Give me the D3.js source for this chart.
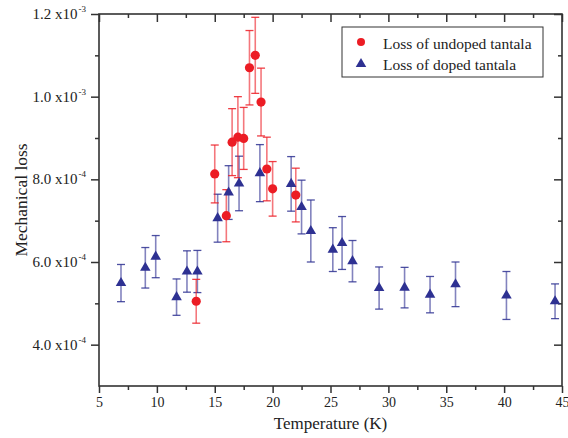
<!DOCTYPE html>
<html>
<head>
<meta charset="utf-8">
<script src="https://cdn.jsdelivr.net/npm/d3@7"></script>
<style>
  body { margin: 0; background: #fff; }
  text { font-family: "Liberation Serif", "Times New Roman", serif; fill: #222; }
</style>
</head>
<body>
<div id="chart"></div>
<script>
// undoped tantala (red circles)
var undopedT   = [13.4, 15.0, 16.0, 16.5, 17.0, 17.5, 18.0, 18.5, 19.0, 19.5, 20.0, 22.0];
var undopedVal = [5.05e-4, 8.13e-4, 7.12e-4, 8.90e-4, 9.02e-4, 8.99e-4, 10.70e-4, 11.00e-4, 9.87e-4, 8.25e-4, 7.77e-4, 7.62e-4];
var undopedErr = [0.53e-4, 0.70e-4, 0.63e-4, 0.81e-4, 0.98e-4, 0.75e-4, 0.90e-4, 0.92e-4, 0.82e-4, 0.77e-4, 0.66e-4, 0.65e-4];

// doped tantala (blue triangles)
var dopedT   = [6.9, 9.0, 9.9, 11.7, 12.6, 13.5, 15.25, 16.2, 17.1, 18.9, 21.6, 22.5, 23.3, 25.2, 26.0, 26.9, 29.2, 31.4, 33.6, 35.8, 40.2, 44.4];
var dopedVal = [5.49e-4, 5.86e-4, 6.13e-4, 5.15e-4, 5.77e-4, 5.77e-4, 7.06e-4, 7.68e-4, 7.90e-4, 8.15e-4, 7.89e-4, 7.33e-4, 6.75e-4, 6.30e-4, 6.46e-4, 6.02e-4, 5.37e-4, 5.38e-4, 5.21e-4, 5.46e-4, 5.19e-4, 5.05e-4];
var dopedErr = [0.45e-4, 0.49e-4, 0.51e-4, 0.44e-4, 0.50e-4, 0.51e-4, 0.58e-4, 0.65e-4, 0.66e-4, 0.69e-4, 0.66e-4, 0.65e-4, 0.75e-4, 0.53e-4, 0.64e-4, 0.50e-4, 0.51e-4, 0.49e-4, 0.44e-4, 0.54e-4, 0.58e-4, 0.42e-4];

var xTicks = [5, 10, 15, 20, 25, 30, 35, 40, 45];
var yTicks = [4e-4, 6e-4, 8e-4, 10e-4, 12e-4];
var yTickText = [["4.0 x10", "-4"], ["6.0 x10", "-4"], ["8.0 x10", "-4"], ["1.0 x10", "-3"], ["1.2 x10", "-3"]];
var seriesNames = ["Loss of undoped tantala", "Loss of doped tantala"];

var red = "#ec1c24", blue = "#2e3192";

var W = 568, H = 438,
    pl = 99, pr = 562, pt = 14, pb = 386;

var x = d3.scaleLinear().domain([5, 45]).range([pl, pr]);
var y = d3.scaleLinear().domain([3e-4, 12e-4]).range([pb, pt]);

var svg = d3.select("#chart").append("svg")
    .attr("width", W)
    .attr("height", H);

// minor tick values
var xMinor = d3.range(7.5, 45, 5);
var yMinor = [5e-4, 7e-4, 9e-4, 11e-4];

var axisColor = "#333";

// bottom axis (ticks out)
var xAxis = d3.axisBottom(x).tickValues(xTicks).tickSize(7).tickPadding(4).tickFormat(d3.format("d"));
var gx = svg.append("g").attr("transform", "translate(0," + pb + ")").call(xAxis);
gx.selectAll("text").style("font-size", "14px");
svg.append("g").attr("transform", "translate(0," + pb + ")")
  .call(d3.axisBottom(x).tickValues(xMinor).tickSize(4).tickFormat(""));

// top axis (ticks in)
svg.append("g").attr("transform", "translate(0," + pt + ")")
  .call(d3.axisBottom(x).tickValues(xTicks).tickSize(8).tickFormat(""));
svg.append("g").attr("transform", "translate(0," + pt + ")")
  .call(d3.axisBottom(x).tickValues(xMinor).tickSize(4).tickFormat(""));

// left axis (ticks out)
svg.append("g").attr("transform", "translate(" + pl + ",0)")
  .call(d3.axisLeft(y).tickValues(yTicks).tickSize(8).tickFormat(""));
svg.append("g").attr("transform", "translate(" + pl + ",0)")
  .call(d3.axisLeft(y).tickValues(yMinor).tickSize(4).tickFormat(""));

// right axis (ticks in)
svg.append("g").attr("transform", "translate(" + pr + ",0)")
  .call(d3.axisLeft(y).tickValues(yTicks).tickSize(8).tickFormat(""));
svg.append("g").attr("transform", "translate(" + pr + ",0)")
  .call(d3.axisLeft(y).tickValues(yMinor).tickSize(4).tickFormat(""));

svg.selectAll(".domain").remove();
svg.selectAll(".tick line").attr("stroke", axisColor).attr("stroke-width", 1.5);

// frame
svg.append("rect")
  .attr("x", pl).attr("y", pt)
  .attr("width", pr - pl).attr("height", pb - pt)
  .attr("fill", "none").attr("stroke", axisColor).attr("stroke-width", 1.6);

// y tick labels with superscript exponent
var yl = svg.selectAll(".ylab")
  .data(yTicks)
  .enter().append("text")
  .attr("class", "ylab")
  .attr("x", 86)
  .attr("y", function(d) { return y(d) + 5; })
  .attr("text-anchor", "end")
  .style("font-size", "15px");
yl.append("tspan").text(function(d, i) { return yTickText[i][0]; });
yl.append("tspan").attr("dx", 1).attr("dy", -7).style("font-size", "9px")
  .text(function(d, i) { return yTickText[i][1]; });

// axis titles
svg.append("text")
  .attr("x", (pl + pr) / 2)
  .attr("y", 429)
  .attr("text-anchor", "middle")
  .style("font-size", "17px")
  .text("Temperature (K)");

svg.append("text")
  .attr("transform", "translate(27," + 200 + ") rotate(-90)")
  .attr("text-anchor", "middle")
  .style("font-size", "17.5px")
  .text("Mechanical loss");

// error bars
function errorBars(tv, vals, errs, color) {
  var g = svg.append("g");
  var idx = d3.range(tv.length);
  g.selectAll(".bar")
    .data(idx).enter().append("line")
    .attr("x1", function(i) { return x(tv[i]); })
    .attr("x2", function(i) { return x(tv[i]); })
    .attr("y1", function(i) { return y(vals[i] + errs[i]); })
    .attr("y2", function(i) { return y(vals[i] - errs[i]); })
    .attr("stroke", color).attr("stroke-opacity", 0.6).attr("stroke-width", 1.6);
  [1, -1].forEach(function(s) {
    g.selectAll(".cap" + s)
      .data(idx).enter().append("line")
      .attr("x1", function(i) { return x(tv[i]) - 4; })
      .attr("x2", function(i) { return x(tv[i]) + 4; })
      .attr("y1", function(i) { return y(vals[i] + s * errs[i]); })
      .attr("y2", function(i) { return y(vals[i] + s * errs[i]); })
      .attr("stroke", color).attr("stroke-opacity", 0.85).attr("stroke-width", 1.3);
  });
}
errorBars(dopedT, dopedVal, dopedErr, blue);
errorBars(undopedT, undopedVal, undopedErr, red);

var tri = d3.symbol().type(d3.symbolTriangle).size(48);

svg.append("g").selectAll("path")
  .data(d3.range(dopedT.length)).enter().append("path")
  .attr("d", tri)
  .attr("transform", function(i) { return "translate(" + x(dopedT[i]) + "," + y(dopedVal[i]) + ")"; })
  .attr("fill", blue);

svg.append("g").selectAll("circle")
  .data(d3.range(undopedT.length)).enter().append("circle")
  .attr("cx", function(i) { return x(undopedT[i]); })
  .attr("cy", function(i) { return y(undopedVal[i]); })
  .attr("r", 4.6)
  .attr("fill", red);

// legend
var lg = svg.append("g");
lg.append("rect")
  .attr("x", 342).attr("y", 27).attr("width", 201).attr("height", 50)
  .attr("fill", "#fff").attr("stroke", axisColor).attr("stroke-width", 1);
lg.append("circle").attr("cx", 361).attr("cy", 42).attr("r", 4).attr("fill", red);
lg.append("path").attr("d", tri).attr("transform", "translate(361,64)").attr("fill", blue);
lg.selectAll(".ltxt")
  .data(seriesNames).enter().append("text")
  .attr("x", 383)
  .attr("y", function(d, i) { return 49 + i * 20.5; })
  .style("font-size", "15.5px")
  .text(function(d) { return d; });
</script>
</body>
</html>
